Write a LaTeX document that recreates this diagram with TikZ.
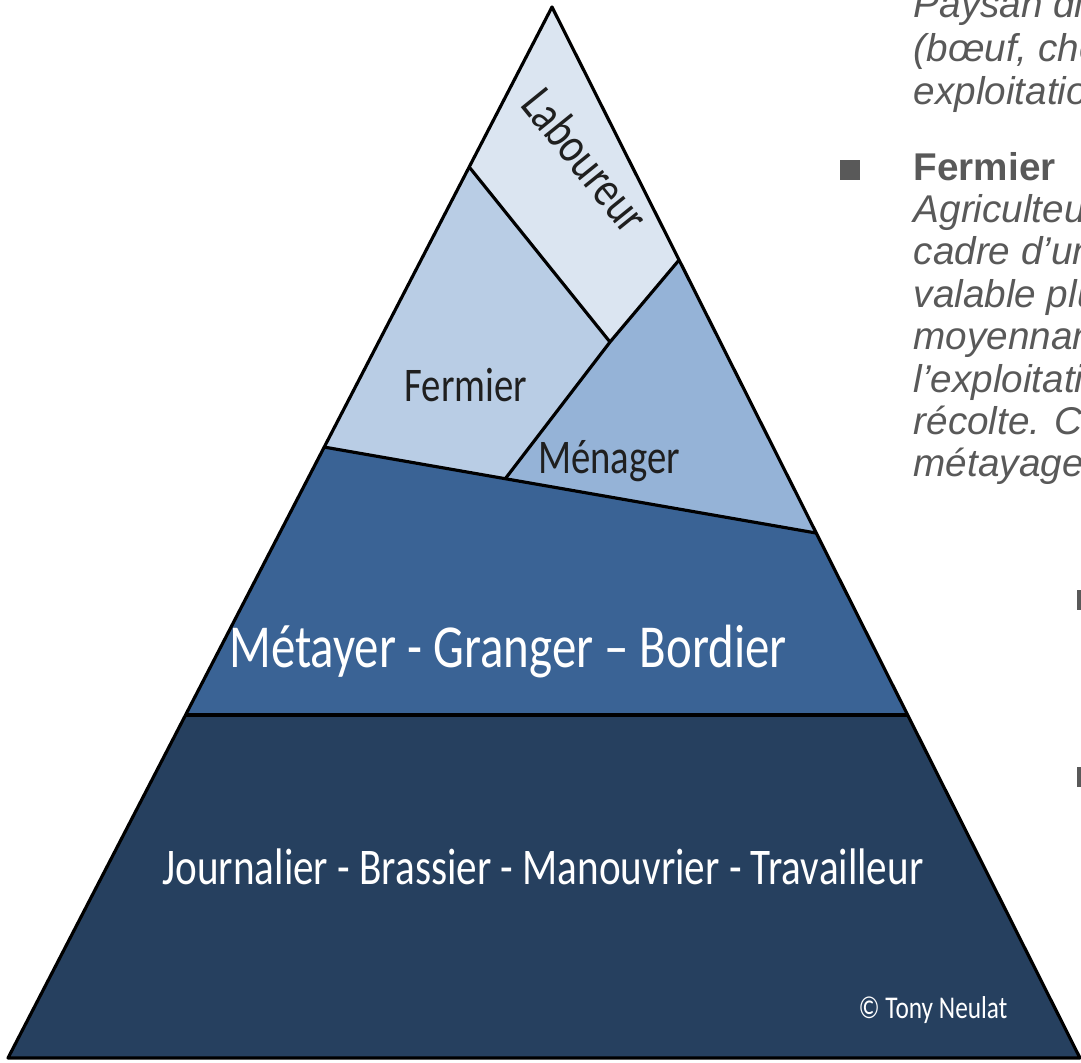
\documentclass[tikz,border=0pt]{standalone}
\usepackage{fontspec}
\usepackage{xcolor}
\usepackage{tikz}
\usetikzlibrary{positioning, calc}

\newfontfamily\calibfont{Carlito}
\newfontfamily\arialfont{Liberation Sans}
\newcommand{\tallbox}[1]{\scalebox{1}[1.25]{#1}}

\definecolor{labcol}{HTML}{DBE5F1}
\definecolor{fermcol}{HTML}{B9CDE5}
\definecolor{menacol}{HTML}{95B3D7}
\definecolor{metacol}{HTML}{3A6395}
\definecolor{jourcol}{HTML}{26405F}
\definecolor{notegray}{HTML}{595959}

\begin{document}
\begin{tikzpicture}[x=0.01cm, y=-0.01cm]
	\tikzstyle{band}=[draw=black, line width=0.9pt, line join=round]
	\tikzstyle{dark label}=[text=black!88, inner sep=0pt]
	\tikzstyle{light label}=[text=white, inner sep=0pt]
	\tikzstyle{note}=[font=\arialfont\itshape\fontsize{11}{12}\selectfont, text=notegray, anchor=base west, inner sep=0pt]
	\tikzstyle{bullet}=[fill=notegray, minimum size=0.2cm, inner sep=0pt]

	\useasboundingbox (0,0) rectangle (1081,1062);
	\clip (0,0) rectangle (1081,1062);

	\coordinate (top) at (552,7);
	\coordinate (bl) at (8,1058);
	\coordinate (br) at (1080,1058);
	\coordinate (labL) at ($(top)!0.1522!(bl)$);
	\coordinate (labR) at ($(top)!0.2407!(br)$);
	\coordinate (labB) at (610,342);
	\coordinate (midL) at ($(top)!0.4187!(bl)$);
	\coordinate (midR) at ($(top)!0.5005!(br)$);
	\coordinate (fmB) at ($(midL)!0.368!(midR)$);
	\coordinate (lowL) at ($(top)!0.6736!(bl)$);
	\coordinate (lowR) at ($(top)!0.6736!(br)$);

	\fill[labcol] (top) -- (labR) -- (labB) -- (labL) -- cycle;
	\fill[fermcol] (labL) -- (labB) -- (fmB) -- (midL) -- cycle;
	\fill[menacol] (labB) -- (labR) -- (midR) -- (fmB) -- cycle;
	\fill[metacol] (midL) -- (midR) -- (lowR) -- (lowL) -- cycle;
	\fill[jourcol] (lowL) -- (lowR) -- (br) -- (bl) -- cycle;

	\draw[band] (top) -- (br) -- (bl) -- cycle;
	\draw[band] (labL) -- (labB) -- (labR);
	\draw[band] (labB) -- (fmB);
	\draw[band] (midL) -- (midR);
	\draw[band] (lowL) -- (lowR);

	\node[dark label, font=\calibfont\fontsize{11.5}{13}\selectfont, rotate=-51] (laboureur) at (586,160) {\tallbox{Laboureur}};
	\node[dark label, font=\calibfont\fontsize{11}{13}\selectfont] (fermier) at (466,385) {\tallbox{Fermier}};
	\node[dark label, font=\calibfont\fontsize{11}{13}\selectfont] (menager) at (609,461) {\tallbox{Ménager}};
	\node[light label, font=\calibfont\fontsize{13.9}{16}\selectfont] (metayer) at (508,652) {\tallbox{Métayer - Granger – Bordier}};
	\node[light label, font=\calibfont\fontsize{11.7}{14}\selectfont] (journalier) at (543,867) {\tallbox{Journalier - Brassier - Manouvrier - Travailleur}};
	\node[light label, font=\calibfont\fontsize{7.2}{9}\selectfont] (copy) at (933,1010) {\tallbox{© Tony Neulat}};

	\node[note] (n1) at (913,17) {Paysan disposant};
	\node[note] (n2) at (913,61) {(bœuf, cheval)};
	\node[note] (n3) at (913,104) {exploitation};
	\node[bullet] (b1) at (850,170) {};
	\node[note, font=\arialfont\bfseries\fontsize{11}{12}\selectfont] (n4) at (913,180) {Fermier};
	\node[note] (n5) at (913,222) {Agriculteur};
	\node[note] (n6) at (913,264) {cadre d’un};
	\node[note] (n7) at (913,307) {valable plusieurs};
	\node[note] (n8) at (913,349) {moyennant};
	\node[note] (n9) at (913,392) {l’exploitation};
	\node[note] (n10) at (913,434) {récolte. C’est};
	\node[note] (n11) at (913,476) {métayage};
	\node[bullet] (b2) at (1087,600) {};
	\node[bullet] (b3) at (1087,777) {};
\end{tikzpicture}
\end{document}
